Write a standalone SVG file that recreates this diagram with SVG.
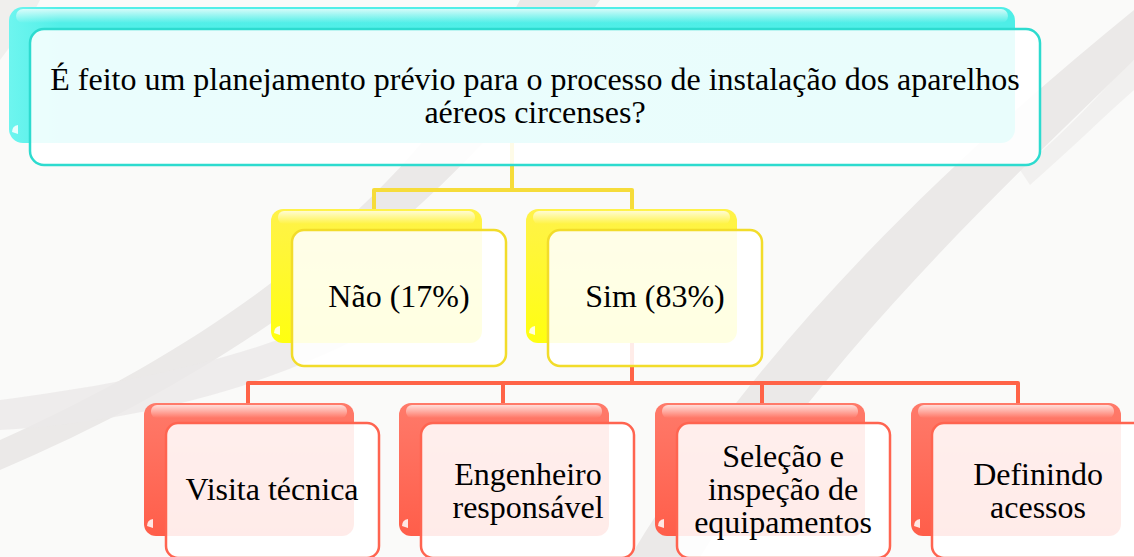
<svg xmlns="http://www.w3.org/2000/svg" width="1134" height="557" viewBox="0 0 1134 557">
<defs>
<linearGradient id="gCyan" x1="0" y1="0" x2="1" y2="0"><stop offset="0" stop-color="#6ef5ef"/><stop offset="0.05" stop-color="#52efe8"/><stop offset="1" stop-color="#4eeee7"/></linearGradient>
<linearGradient id="gYel" x1="0" y1="0" x2="0" y2="1"><stop offset="0" stop-color="#fff24a"/><stop offset="1" stop-color="#ffff10"/></linearGradient>
<linearGradient id="gRed" x1="0" y1="0" x2="0" y2="1"><stop offset="0" stop-color="#ff7a6a"/><stop offset="1" stop-color="#ff5e4a"/></linearGradient>
<linearGradient id="gHi" x1="0" y1="0" x2="0" y2="1"><stop offset="0" stop-color="#fff" stop-opacity="0.75"/><stop offset="1" stop-color="#fff" stop-opacity="0"/></linearGradient>
</defs>
<style>
text{font-family:'Liberation Serif','Times New Roman',serif;font-size:32px;fill:#000;text-anchor:middle}
.front{fill:#fff;fill-opacity:0.88;stroke-width:2.5}
.hi{fill:url(#gHi)}
.dot{fill:#fff;fill-opacity:0.85}
.cy .back{fill:url(#gCyan)}
.cy .front{stroke:#2ddbcf}
.ye .back{fill:url(#gYel)}
.ye .front{stroke:#f2dc2a}
.re .back{fill:url(#gRed)}
.re .front{stroke:#ff6450}
</style>
<rect width="1134" height="557" fill="#fafaf9"/>
<g id="background" fill="#ebe9e8">
<path d="M520 0 L600 0 C500 140 330 330 0 470 L0 440 C290 310 440 150 520 0 Z"/>
<path d="M0 400 C150 380 320 350 470 240 L480 262 C340 370 170 420 0 430 Z" fill-opacity="0.8"/>
<path d="M1134 10 L1134 60 C990 200 820 360 700 557 L630 557 C760 340 950 160 1134 10 Z"/>
<path d="M0 0 L40 0 C30 20 15 40 0 60 Z" fill-opacity="0.7"/>
<path d="M1020 170 C1080 120 1110 80 1134 60 L1134 90 C1100 120 1070 150 1030 185 Z" fill-opacity="0.6"/>
</g>
<g id="connectors" fill="none" stroke-width="4" stroke-linejoin="round">
<path d="M512 143 V190 M374 210 V190 H632 V210" stroke="#f6dc3a"/>
<path d="M632 343 V383 M248 403 V383 H1018 V403 M503 383 V403 M762 383 V403" stroke="#ff6347"/>
</g>
<g id="node-question" class="cy">
<rect class="back" x="9" y="7" width="1006" height="136" rx="14"/>
<rect class="hi" x="16" y="9" width="992" height="14" rx="7"/>
<path class="dot" d="M12 132 Q12 126 18 125 L18 134 Z"/>
<rect class="front" x="30" y="29" width="1010" height="136" rx="14"/>
<text x="535" y="90">É feito um planejamento prévio para o processo de instalação dos aparelhos</text>
<text x="535" y="123">aéreos circenses?</text>
</g>
<g id="node-nao" class="ye">
<rect class="back" x="271" y="209" width="211" height="134" rx="12"/>
<rect class="hi" x="278" y="211" width="197" height="13" rx="6"/>
<path class="dot" d="M274 333 Q274 327 280 326 L280 335 Z"/>
<rect class="front" x="292" y="230" width="214" height="136" rx="12"/>
<text x="399" y="307">Não (17%)</text>
</g>
<g id="node-sim" class="ye">
<rect class="back" x="526" y="209" width="211" height="134" rx="12"/>
<rect class="hi" x="533" y="211" width="197" height="13" rx="6"/>
<path class="dot" d="M529 333 Q529 327 535 326 L535 335 Z"/>
<rect class="front" x="548" y="230" width="214" height="136" rx="12"/>
<text x="655" y="307">Sim (83%)</text>
</g>
<g id="node-visita" class="re">
<rect class="back" x="144" y="403" width="210" height="133" rx="12"/>
<rect class="hi" x="151" y="405" width="196" height="13" rx="6"/>
<path class="dot" d="M147 526 Q147 520 153 519 L153 528 Z"/>
<rect class="front" x="166" y="423" width="213" height="135" rx="12"/>
<text x="272" y="500">Visita técnica</text>
</g>
<g id="node-engenheiro" class="re">
<rect class="back" x="399" y="403" width="210" height="133" rx="12"/>
<rect class="hi" x="406" y="405" width="196" height="13" rx="6"/>
<path class="dot" d="M402 526 Q402 520 408 519 L408 528 Z"/>
<rect class="front" x="421" y="423" width="213" height="135" rx="12"/>
<text x="528" y="485">Engenheiro</text>
<text x="528" y="518">responsável</text>
</g>
<g id="node-selecao" class="re">
<rect class="back" x="655" y="403" width="210" height="133" rx="12"/>
<rect class="hi" x="662" y="405" width="196" height="13" rx="6"/>
<path class="dot" d="M658 526 Q658 520 664 519 L664 528 Z"/>
<rect class="front" x="677" y="423" width="213" height="135" rx="12"/>
<text x="783" y="467">Seleção e</text>
<text x="783" y="500">inspeção de</text>
<text x="783" y="533">equipamentos</text>
</g>
<g id="node-definindo" class="re">
<rect class="back" x="911" y="403" width="210" height="133" rx="12"/>
<rect class="hi" x="918" y="405" width="196" height="13" rx="6"/>
<path class="dot" d="M914 526 Q914 520 920 519 L920 528 Z"/>
<rect class="front" x="932" y="423" width="213" height="135" rx="12"/>
<text x="1038" y="485">Definindo</text>
<text x="1038" y="518">acessos</text>
</g>
</svg>
